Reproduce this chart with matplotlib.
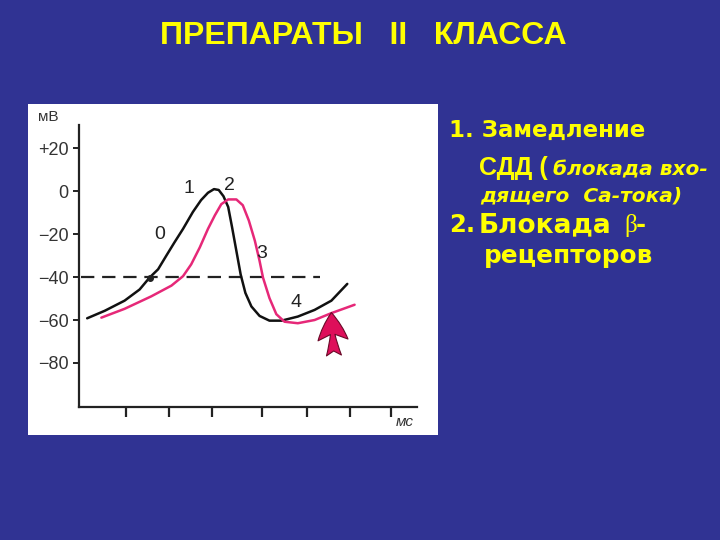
import numpy as np
import matplotlib
matplotlib.use('Agg')
import matplotlib.pyplot as plt

# Data (x in tick units, y in mV)
black_x = [0.19, 0.60, 1.06, 1.41, 1.64, 1.84, 2.03, 2.22, 2.42, 2.65, 2.84, 3.00,
           3.14, 3.25, 3.36, 3.47, 3.56, 3.66, 3.76, 3.87, 4.01, 4.20, 4.43, 4.71,
           5.09, 5.48, 5.87, 6.24]
black_y = [-59.2, -55.7, -51.0, -45.8, -40.3, -36.4, -30.1, -23.9, -17.6, -9.7, -4.2, -0.8,
           0.9, 0.5, -2.4, -7.4, -16.8, -27.8, -38.8, -47.4, -53.7, -58.1, -60.3, -60.3,
           -58.4, -55.3, -51.0, -43.2]

pink_x = [0.52, 1.06, 1.68, 2.15, 2.42, 2.61, 2.81, 3.00, 3.16, 3.31, 3.47, 3.66,
          3.81, 3.95, 4.09, 4.20, 4.28, 4.43, 4.59, 4.78, 5.09, 5.48, 5.87, 6.41]
pink_y = [-58.9, -54.8, -49.0, -44.0, -39.6, -34.1, -26.2, -17.6, -11.3, -6.1, -3.9, -3.9,
          -6.6, -13.7, -23.1, -32.5, -40.3, -49.8, -57.3, -60.8, -61.5, -60.0, -56.8, -52.9]

threshold = -40
threshold_span = [0.05, 5.6]
threshold_dot = (1.64, -40.3)

phase_labels = ['0', '1', '2', '3', '4']
phase_x = [1.88, 2.56, 3.50, 4.26, 5.05]
phase_y = [-20, 1.3, 2.4, -29, -52]

arrow_tip = (5.87, -56.5)
arrow_tail = (5.93, -76.5)

yticks = [20, 0, -20, -40, -60, -80]
ytick_labels = ['+20', '0', '\u221220', '\u221240', '\u221260', '\u221280']
xticks = [1.1, 2.1, 3.1, 4.25, 5.3, 6.3, 7.25]

BG = '#303393'
YEL = '#ffff00'
PINK = '#e62878'

fig = plt.figure(figsize=(7.2, 5.4), dpi=100, facecolor=BG)

def px(x, y):
    return x / 720, 1 - y / 540

# white panel with the chart
ax = fig.add_axes([28/720, 1 - 435/540, 410/720, 331/540])
ax.set_facecolor('white')
ax.set_xlim(-1.186, 8.35)
ax.set_ylim(-113.5, 40.5)

for s in ['top', 'right']:
    ax.spines[s].set_visible(False)
ax.spines['left'].set_position(('data', 0))
ax.spines['left'].set_bounds(-100.5, 30.7)
ax.spines['bottom'].set_position(('data', -100.5))
ax.spines['bottom'].set_bounds(0, 7.86)
for s in ['left', 'bottom']:
    ax.spines[s].set_linewidth(1.6)
    ax.spines[s].set_color('#222222')

ax.set_yticks(yticks)
ax.set_yticklabels(ytick_labels, fontsize=13, family='Liberation Sans', color='#333333')
ax.tick_params(axis='y', direction='out', length=4.5, width=1.4, pad=3, color='#222222')
ax.set_xticks(xticks)
ax.set_xticklabels([])
ax.tick_params(axis='x', direction='out', length=7, width=1.6, color='#222222')

ax.plot(threshold_span, [threshold, threshold], color='#222222', lw=1.6, ls=(0, (6, 3.5)))
ax.plot(black_x, black_y, color='#111111', lw=1.8, solid_capstyle='round')
ax.plot(pink_x, pink_y, color=PINK, lw=1.8, solid_capstyle='round')
ax.plot(*threshold_dot, 'o', color='#222222', ms=4)

for lab, x, y in zip(phase_labels, phase_x, phase_y):
    ax.text(x, y, lab, fontsize=14, family='Liberation Sans', color='#222222',
            ha='center', va='center')

ax.annotate('', xy=arrow_tip, xytext=arrow_tail,
            arrowprops=dict(arrowstyle='fancy,head_length=1.1,head_width=1.2,tail_width=0.6',
                            fc='#de0f5a', ec='#6a0a28', lw=0.8, mutation_scale=18,
                            shrinkA=0, shrinkB=0))

ax.text(-0.72, 34.4, 'мВ', fontsize=11, family='Liberation Sans', color='#333333',
        ha='center', va='center')
ax.text(7.58, -107.4, 'мс', fontsize=11, family='Liberation Sans', color='#333333',
        ha='center', va='center', style='italic')

# title
fig.text(*px(363, 36), 'ПРЕПАРАТЫ   II   КЛАССА', fontsize=23, fontweight='bold',
         family='Liberation Sans', color=YEL, ha='center', va='center')

# right-hand text
bold = dict(fontweight='bold', family='DejaVu Sans', color=YEL, ha='left', va='baseline')
ital = dict(fontweight='bold', style='italic', family='DejaVu Sans', color=YEL,
            ha='left', va='baseline')
fig.text(*px(449, 137), '1. Замедление', fontsize=16.5, **bold)
fig.text(*px(479, 175), 'СДД (', fontsize=18, fontweight='bold', family='Liberation Sans',
         color=YEL, ha='left', va='baseline')
fig.text(*px(553, 175), 'блокада вхо-', fontsize=14.5, **ital)
fig.text(*px(480, 201), 'дящего  Са-тока)', fontsize=14.5, **ital)
fig.text(*px(449, 232), '2.', fontsize=17.5, **bold)
fig.text(*px(479, 232), 'Блокада', fontsize=19, **bold)
fig.text(*px(624, 232), 'β', fontsize=18, family='Liberation Serif',
         color=YEL, ha='left', va='baseline')
fig.text(*px(636, 232), '-', fontsize=17.5, **bold)
fig.text(*px(484, 263), 'рецепторов', fontsize=17.8, **bold)

fig.savefig('out.png', dpi=100, facecolor=BG)
